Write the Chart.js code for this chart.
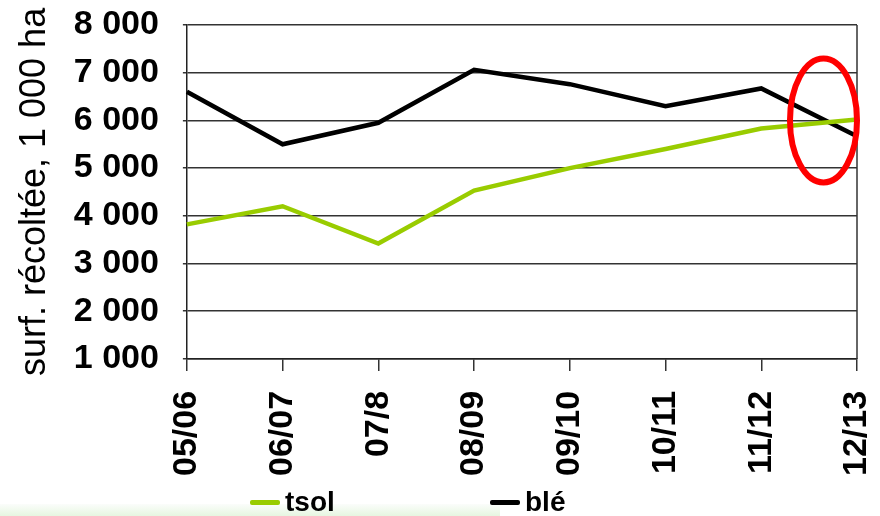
<!DOCTYPE html>
<html>
<head>
<meta charset="utf-8">
<script src="https://cdn.jsdelivr.net/npm/chart.js@4.4.1/dist/chart.umd.min.js"></script>
<style>
  html, body { margin: 0; padding: 0; background: #fff; }
  #wrap { position: relative; width: 880px; height: 516px; }
  #strip { position: absolute; left: 0; bottom: 0; width: 500px; height: 12px;
           background: linear-gradient(#fbfdfb, #e6f6e0); }
  #legend { position: absolute; top: 486px; left: 0; width: 880px; height: 30px;
            font: bold 28px "Liberation Sans", Arial, sans-serif; color: #000; }
  .item { position: absolute; top: 0; display: flex; align-items: center; }
  .swatch { display: inline-block; width: 30px; height: 5px; margin-right: 5px; border-radius: 2px; }
</style>
</head>
<body>
<div id="wrap">
  <div id="strip"></div>
  <canvas id="chart" width="880" height="516"></canvas>
  <div id="legend"></div>
</div>
<script>
// data
const seasons = ['05/06', '06/07', '07/8', '08/09', '09/10', '10/11', '11/12', '12/13'];
const tsolValues = [3820, 4200, 3420, 4530, 5000, 5400, 5830, 6020];
const bleValues = [6600, 5500, 5950, 7060, 6760, 6300, 6670, 5670];
const yTicks = [1000, 2000, 3000, 4000, 5000, 6000, 7000, 8000];
const legendLeft = [250, 490];

function fmt(v) {
    return String(v).replace(/\B(?=(\d{3})+(?!\d))/g, ' ');
}

// right border + red ellipse around the crossing point
const extras = {
    id: 'extras',
    afterDraw(chart) {
        const c = chart.ctx, a = chart.chartArea;
        const x = chart.scales.x, y = chart.scales.y;
        c.save();
        c.strokeStyle = '#333';
        c.lineWidth = 1.5;
        c.beginPath();
        c.moveTo(a.right, a.top);
        c.lineTo(a.right, a.bottom);
        c.stroke();

        const cx = x.getPixelForValue(6.65);
        const cy = y.getPixelForValue(6000);
        const rx = x.getPixelForValue(7) - x.getPixelForValue(6.65);
        const ry = y.getPixelForValue(6000) - y.getPixelForValue(7300);
        c.strokeStyle = '#ff0000';
        c.lineWidth = 6;
        c.beginPath();
        c.ellipse(cx, cy, rx, ry, 0, 0, Math.PI * 2);
        c.stroke();
        c.restore();
    }
};

const ctx = document.getElementById('chart').getContext('2d');
const chart = new Chart(ctx, {
    type: 'line',
    data: {
        labels: seasons,
        datasets: [
            { label: 'tsol', data: tsolValues, borderColor: '#99cc00', backgroundColor: '#99cc00',
              borderWidth: 4.5, pointRadius: 0, tension: 0 },
            { label: 'blé', data: bleValues, borderColor: '#000', backgroundColor: '#000',
              borderWidth: 4.5, pointRadius: 0, tension: 0 }
        ]
    },
    options: {
        responsive: false,
        animation: false,
        layout: { padding: { left: 21, right: 0, top: 0, bottom: 20 } },
        plugins: { legend: { display: false }, tooltip: { enabled: false } },
        scales: {
            x: {
                offset: false,
                afterFit: (s) => { s.paddingRight = 23; s.paddingLeft = 0; },
                grid: { drawOnChartArea: false, drawTicks: true, tickLength: 12, color: '#333', lineWidth: 1.5 },
                border: { color: '#222', width: 1.5 },
                ticks: {
                    maxRotation: 90, minRotation: 90, padding: 20, color: '#000', autoSkip: false,
                    font: { family: '"Liberation Sans", Arial, sans-serif', size: 34, weight: 'bold' }
                }
            },
            y: {
                min: 1000, max: 8000,
                afterBuildTicks: (s) => { s.ticks = yTicks.map(v => ({ value: v })); },
                afterFit: (s) => { s.paddingTop = 25; },
                grid: { color: '#333', lineWidth: 1.5, tickLength: 4 },
                border: { color: '#222', width: 1.5 },
                ticks: {
                    padding: 24, color: '#000', autoSkip: false, callback: (v) => fmt(v),
                    font: { family: '"Liberation Sans", Arial, sans-serif', size: 34, weight: 'bold' }
                },
                title: {
                    display: true, text: 'surf. récoltée, 1 000 ha', color: '#000', padding: 0,
                    font: { family: '"Liberation Sans", Arial, sans-serif', size: 36, lineHeight: 0.8 }
                }
            }
        }
    },
    plugins: [extras]
});

// legend built from the datasets
const legend = document.getElementById('legend');
chart.data.datasets.forEach((ds, i) => {
    const item = document.createElement('div');
    item.className = 'item';
    item.style.left = legendLeft[i] + 'px';
    const sw = document.createElement('span');
    sw.className = 'swatch';
    sw.style.background = ds.borderColor;
    const txt = document.createElement('span');
    txt.textContent = ds.label;
    item.appendChild(sw);
    item.appendChild(txt);
    legend.appendChild(item);
});
</script>
</body>
</html>
